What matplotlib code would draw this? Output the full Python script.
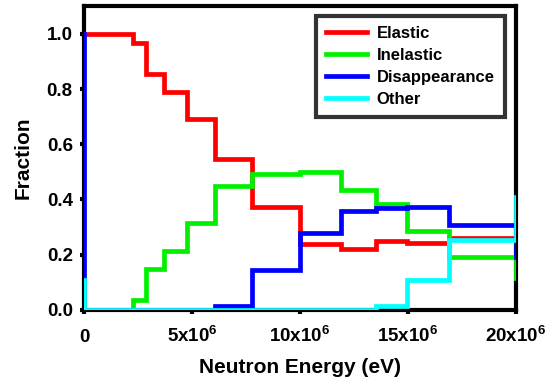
import numpy as np
import matplotlib
matplotlib.use("Agg")
import matplotlib.pyplot as plt

plt.rcParams['font.family'] = ['Liberation Sans', 'DejaVu Sans']
plt.rcParams['font.weight'] = 'bold'
plt.rcParams['mathtext.fontset'] = 'custom'
plt.rcParams['mathtext.rm'] = 'Liberation Sans:bold'
plt.rcParams['mathtext.default'] = 'rm'

# Bin edges in MeV (converted to eV below)
edges_mev = [0, 2.25, 2.85, 3.7, 4.75, 6.05, 7.8, 10.0, 11.9, 13.5, 14.95, 16.9, 20.0]

# Per-bin fractions (12 bins), plus start value at 0 and end value at 20 MeV
elastic_start, elastic_end = 1.0, 0.26
elastic = [1.0, 0.968, 0.854, 0.79, 0.692, 0.548, 0.373, 0.238, 0.219, 0.25, 0.244, 0.262]

inelastic_start, inelastic_end = 0.0, 0.115
inelastic = [0.0, 0.036, 0.15, 0.214, 0.315, 0.449, 0.493, 0.499, 0.436, 0.385, 0.286, 0.193]

disap_start, disap_end = 1.0, 0.19
disappearance = [0.0, 0.0, 0.0, 0.0, 0.0, 0.015, 0.144, 0.277, 0.357, 0.37, 0.373, 0.307]

other_start, other_end = 0.11, 0.41
other = [0.0, 0.0, 0.0, 0.0, 0.0, 0.0, 0.0, 0.0, 0.0, 0.015, 0.11, 0.255]

series = [
    ("Elastic", elastic_start, elastic, elastic_end, "#ff0000"),
    ("Inelastic", inelastic_start, inelastic, inelastic_end, "#00f000"),
    ("Disappearance", disap_start, disappearance, disap_end, "#0000ff"),
    ("Other", other_start, other, other_end, "#00ffff"),
]

xticks = [0, 5e6, 10e6, 15e6, 20e6]
xticklabels = ['0', r'5x10$^{6}$', r'10x10$^{6}$', r'15x10$^{6}$', r'20x10$^{6}$']
yticks = [0.0, 0.2, 0.4, 0.6, 0.8, 1.0]

edges = np.array(edges_mev) * 1e6

fig = plt.figure(figsize=(5.58, 3.85), dpi=100)
ax = fig.add_axes([0.1505, 0.195, 0.7742, 0.789])

for name, s, vals, e, col in series:
    x = np.r_[edges[0], edges]
    y = np.r_[s, vals, e]
    ax.step(x, y, where='post', color=col, lw=3.4, label=name, solid_joinstyle='miter')

ax.set_xlim(0, 20e6)
ax.set_ylim(0, 1.1)
ax.set_xticks(xticks)
ax.set_xticklabels(xticklabels)
ax.set_yticks(yticks)
ax.set_yticklabels([f"{v:.1f}" for v in yticks])
ax.tick_params(axis='both', direction='out', length=3, width=3, labelsize=13.5)
ax.tick_params(axis='x', pad=20)
ax.tick_params(axis='y', pad=5)
for lbl in ax.get_xticklabels():
    lbl.set_verticalalignment('baseline')
for sp in ax.spines.values():
    sp.set_linewidth(3)
    sp.set_zorder(0)

ax.set_xlabel("Neutron Energy (eV)", fontsize=15, fontweight='bold', labelpad=9)
ax.set_ylabel("Fraction", fontsize=15, fontweight='bold', labelpad=10)

leg = ax.legend(loc='upper right', bbox_to_anchor=(0.985, 0.985), fontsize=12,
                frameon=True, fancybox=False, handlelength=2.5, borderpad=0.6,
                labelspacing=0.42, handletextpad=0.55, borderaxespad=0.3)
leg.get_frame().set_edgecolor('black')
leg.get_frame().set_linewidth(3)
for t in leg.get_texts():
    t.set_fontweight('bold')

fig.savefig("out.png", dpi=100)
